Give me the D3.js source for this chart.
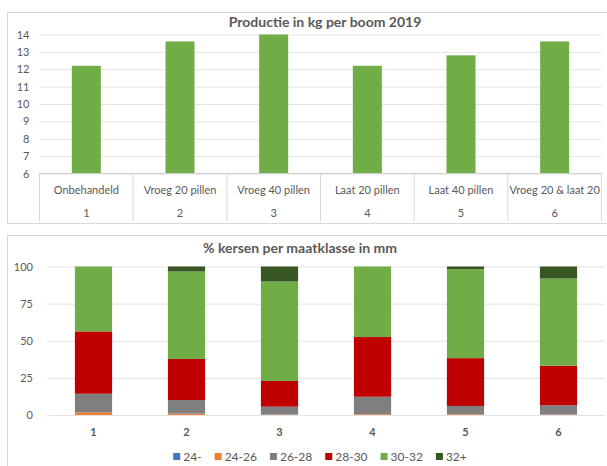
<!DOCTYPE html>
<html>
<head>
<meta charset="utf-8">
<script src="https://cdn.jsdelivr.net/npm/d3@7"></script>
<style>
  body { margin: 0; background: #fff; }
  svg text { font-family: Lato, "Open Sans", sans-serif; fill: #595959; }
</style>
</head>
<body>
<svg id="chart" width="607" height="466"></svg>
<script>
// data - bovenste grafiek
const codes = ['1', '2', '3', '4', '5', '6'];
const treatments = ['Onbehandeld', 'Vroeg 20 pillen', 'Vroeg 40 pillen', 'Laat 20 pillen', 'Laat 40 pillen', 'Vroeg 20 & laat 20'];
const kgPerTree = [12.2, 13.6, 14.0, 12.2, 12.8, 13.6];
const kgTicks = [6, 7, 8, 9, 10, 11, 12, 13, 14];

// data - onderste grafiek (% per maatklasse)
const sizeClasses = ['24-', '24-26', '26-28', '28-30', '30-32', '32+'];
const pct24 = [0, 0, 0, 0, 0, 0];
const pct24_26 = [1.8, 0.9, 0.3, 0.5, 0.5, 0.3];
const pct26_28 = [12.5, 9.2, 5.3, 11.8, 5.6, 6.2];
const pct28_30 = [42.0, 27.6, 17.3, 40.2, 32.2, 26.7];
const pct30_32 = [43.7, 58.9, 67.0, 47.5, 59.9, 58.7];
const pct32plus = [0, 3.4, 10.1, 0, 1.8, 8.1];
const pctTicks = [0, 25, 50, 75, 100];
const classColors = ['#4472C4', '#ED7D31', '#7F7F7F', '#C00000', '#70AD47', '#375623'];

const svg = d3.select('#chart');

// ---------- bovenste grafiek ----------
const topChart = svg.append('g');
topChart.append('rect').attr('x', 7.5).attr('y', 12.5).attr('width', 610).attr('height', 211)
   .attr('fill', 'none').attr('stroke', '#d9d9d9');

const xTop = d3.scaleBand().domain(codes).range([39.5, 601.5]);
const yTop = d3.scaleLinear([6, 14], [173.5, 34.5]);

const yAxisTop = d3.axisLeft(yTop).tickValues(kgTicks)
    .tickSizeInner(-(601.5 - 39.5)).tickSizeOuter(0).tickPadding(10);
topChart.append('g').attr('transform', 'translate(39.5,0)').call(yAxisTop)
   .call(g => g.select('.domain').remove())
   .call(g => g.selectAll('line').attr('stroke', '#e3e3e3'))
   .call(g => g.selectAll('text').style('font-size', '11px').attr('fill', '#6b6b6b'));

topChart.append('text').attr('x', 325).attr('y', 27).attr('text-anchor', 'middle')
   .style('font-size', '14px').style('font-weight', 'bold').text('Productie in kg per boom 2019');

const barW = 29;
topChart.selectAll('.bar').data(kgPerTree).join('rect').attr('class', 'bar')
   .attr('x', (d, i) => xTop(codes[i]) + xTop.bandwidth() / 2 - barW / 2)
   .attr('y', d => yTop(d))
   .attr('width', barW)
   .attr('height', d => yTop(6) - yTop(d))
   .attr('fill', '#70AD47');

// tabel onder de as
topChart.append('line').attr('x1', 39.5).attr('x2', 601.5).attr('y1', 173.5).attr('y2', 173.5)
   .attr('stroke', '#d0d0d0');
topChart.selectAll('.sep').data(codes.concat(['end'])).join('line').attr('class', 'sep')
   .attr('x1', (d, i) => 39.5 + i * xTop.step()).attr('x2', (d, i) => 39.5 + i * xTop.step())
   .attr('y1', 173.5).attr('y2', 221).attr('stroke', '#d9d9d9');
topChart.selectAll('.treat').data(treatments).join('text').attr('class', 'treat')
   .attr('x', (d, i) => xTop(codes[i]) + xTop.bandwidth() / 2).attr('y', 194)
   .attr('text-anchor', 'middle').style('font-size', '11px').text(d => d);
topChart.selectAll('.code').data(codes).join('text').attr('class', 'code')
   .attr('x', d => xTop(d) + xTop.bandwidth() / 2).attr('y', 217)
   .attr('text-anchor', 'middle').style('font-size', '11px').text(d => d);

// ---------- onderste grafiek ----------
const botChart = svg.append('g');
botChart.append('rect').attr('x', 7.5).attr('y', 235.5).attr('width', 610).attr('height', 240)
   .attr('fill', 'none').attr('stroke', '#d9d9d9');

const xBot = d3.scaleBand().domain(codes).range([47, 605]).paddingInner(0.6).paddingOuter(0.3);
const yBot = d3.scaleLinear([0, 100], [415, 266.5]);

const yAxisBot = d3.axisLeft(yBot).tickValues(pctTicks)
    .tickSizeInner(-(605 - 47)).tickSizeOuter(0).tickPadding(14);
botChart.append('g').attr('transform', 'translate(47,0)').call(yAxisBot)
   .call(g => g.select('.domain').remove())
   .call(g => g.selectAll('line').attr('stroke', '#e3e3e3'))
   .call(g => g.selectAll('text').style('font-size', '11px').attr('fill', '#6b6b6b'));

botChart.append('text').attr('x', 300).attr('y', 253).attr('text-anchor', 'middle')
   .style('font-size', '14px').style('font-weight', 'bold').text('% kersen per maatklasse in mm');

const series = [pct24, pct24_26, pct26_28, pct28_30, pct30_32, pct32plus];
const rows = codes.map((c, i) => {
    const r = { code: c };
    sizeClasses.forEach((k, j) => { r[k] = series[j][i]; });
    return r;
});
const stacked = d3.stack().keys(sizeClasses)(rows);

botChart.selectAll('.layer').data(stacked).join('g').attr('class', 'layer')
   .attr('fill', (d, i) => classColors[i])
   .selectAll('rect').data(d => d).join('rect')
   .attr('x', d => xBot(d.data.code))
   .attr('y', d => yBot(d[1]))
   .attr('width', xBot.bandwidth())
   .attr('height', d => yBot(d[0]) - yBot(d[1]));

const xAxisBot = d3.axisBottom(xBot).tickSize(0).tickPadding(13);
botChart.append('g').attr('transform', 'translate(0,415)').call(xAxisBot)
   .call(g => g.select('.domain').remove())
   .call(g => g.selectAll('text').style('font-size', '11px').style('font-weight', 'bold').attr('fill', '#595959'));

// legenda
const legend = botChart.append('g');
let lx = 0;
sizeClasses.forEach((k, i) => {
    const item = legend.append('g').attr('transform', `translate(${lx},0)`);
    item.append('rect').attr('x', 0).attr('y', -4).attr('width', 7).attr('height', 7).attr('fill', classColors[i]);
    const t = item.append('text').attr('x', 10).attr('y', 4).style('font-size', '12px').text(k);
    lx += 10 + t.node().getComputedTextLength() + 13;
});
legend.attr('transform', `translate(${320 - (lx - 13) / 2},457)`);
</script>
</body>
</html>
